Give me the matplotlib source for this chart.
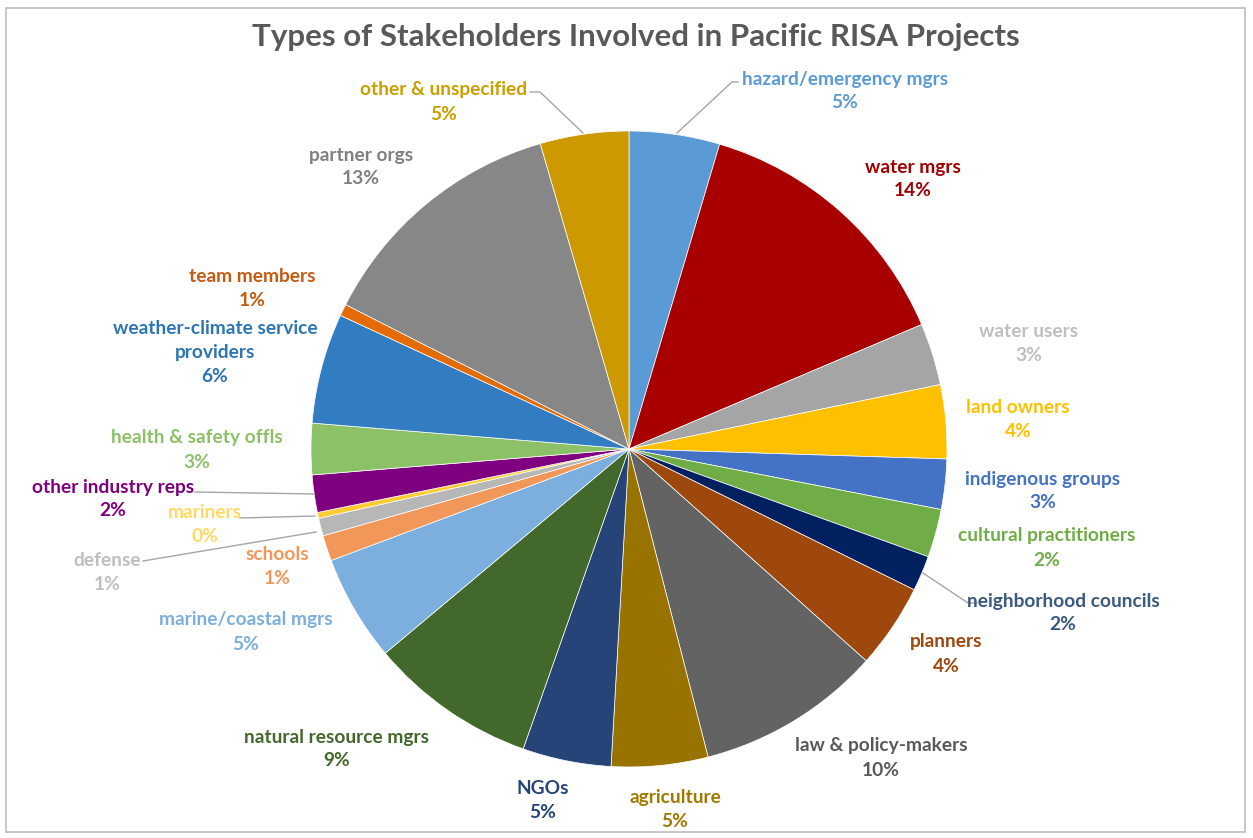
import matplotlib.pyplot as plt
from matplotlib.patches import Rectangle

# Datos (porcentaje del total, sentido horario desde las 12)
categories = [
    'hazard/emergency mgrs', 'water mgrs', 'water users', 'land owners',
    'indigenous groups', 'cultural practitioners', 'neighborhood councils',
    'planners', 'law & policy-makers', 'agriculture', 'NGOs',
    'natural resource mgrs', 'marine/coastal mgrs', 'schools', 'defense',
    'mariners', 'other industry reps', 'health & safety offls',
    'weather-climate service\nproviders', 'team members', 'partner orgs',
    'other & unspecified',
]
shares = [4.6, 14.0, 3.15, 3.75, 2.55, 2.45, 1.8, 4.3, 9.4, 4.9, 4.5,
          8.5, 5.4, 1.3, 0.9, 0.3, 1.9, 2.6, 5.6, 0.6, 13.0, 4.5]
pct_labels = ['5%', '14%', '3%', '4%', '3%', '2%', '2%', '4%', '10%', '5%', '5%',
              '9%', '5%', '1%', '1%', '0%', '2%', '3%', '6%', '1%', '13%', '5%']

slice_colors = ['#5B9BD5', '#A80000', '#A5A5A5', '#FFC000', '#4472C4', '#70AD47',
                '#002060', '#9E480E', '#636363', '#997300', '#264478', '#43682B',
                '#7CAFDD', '#F1975A', '#B7B7B7', '#FFCD33', '#7F007F', '#8CC168',
                '#327DC2', '#E36C09', '#878787', '#CC9900']
text_colors = ['#5B9BD5', '#A00000', '#BFBFBF', '#FFC000', '#4472C4', '#70AD47',
               '#3B5A80', '#9E480E', '#595959', '#A07A00', '#264478', '#43682B',
               '#7CAFDD', '#F1975A', '#BFBFBF', '#FFD966', '#7F007F', '#8CC168',
               '#2E75B6', '#C55A11', '#808080', '#C9A000']

# posiciones de etiquetas en pixeles de la imagen (centro de la primera linea)
label_pos = [(845, 79), (913, 167), (1029, 332), (1018, 408), (1043, 479),
             (1047, 536), (1063, 601), (946, 642), (881, 746), (675, 797),
             (543, 788), (337, 737), (246, 620), (277, 555), (107, 560),
             (205, 513), (113, 487), (197, 438), (215, 329), (252, 277),
             (361, 155), (444, 90)]
LINE_H = 24

# lineas guia (en pixeles de la imagen)
leaders = [
    [(738, 82), (732, 82), (677, 133)],
    [(530, 92), (540, 92), (583, 133)],
    [(195, 492), (314, 494)],
    [(240, 518), (315, 516)],
    [(143, 561), (316, 532)],
    [(977, 603), (968, 603), (923, 573)],
]

W, H = 1253, 838
CX, CY, R = 629, 449, 318


def Y(y):
    return H - y


plt.rcParams['font.family'] = ['Lato', 'DejaVu Sans']

fig = plt.figure(figsize=(W / 100, H / 100), dpi=100)
ax = fig.add_axes([0, 0, 1, 1])

ax.pie(shares, colors=slice_colors, startangle=90, counterclock=False,
       center=(CX, Y(CY)), radius=R,
       wedgeprops=dict(edgecolor='white', linewidth=0.5))
ax.set_xlim(0, W)
ax.set_ylim(0, H)
ax.set_aspect('equal')
ax.axis('off')

# marco
ax.add_patch(Rectangle((6, Y(832)), 1239, 824, fill=False,
                       edgecolor='#BFBFBF', linewidth=1.2))

ax.text(636, Y(37), 'Types of Stakeholders Involved in Pacific RISA Projects',
        ha='center', va='center', fontsize=22.5, fontweight='bold', color='#595959')

for pts in leaders:
    ax.plot([p[0] for p in pts], [Y(p[1]) for p in pts], color='#A6A6A6', lw=1)

for name, pct, (x, y), c in zip(categories, pct_labels, label_pos, text_colors):
    lines = name.split('\n') + [pct]
    for i, line in enumerate(lines):
        ax.text(x, Y(y + i * LINE_H), line, ha='center', va='center',
                fontsize=13.8, fontweight='bold', color=c)

fig.savefig('out.png', dpi=100)
